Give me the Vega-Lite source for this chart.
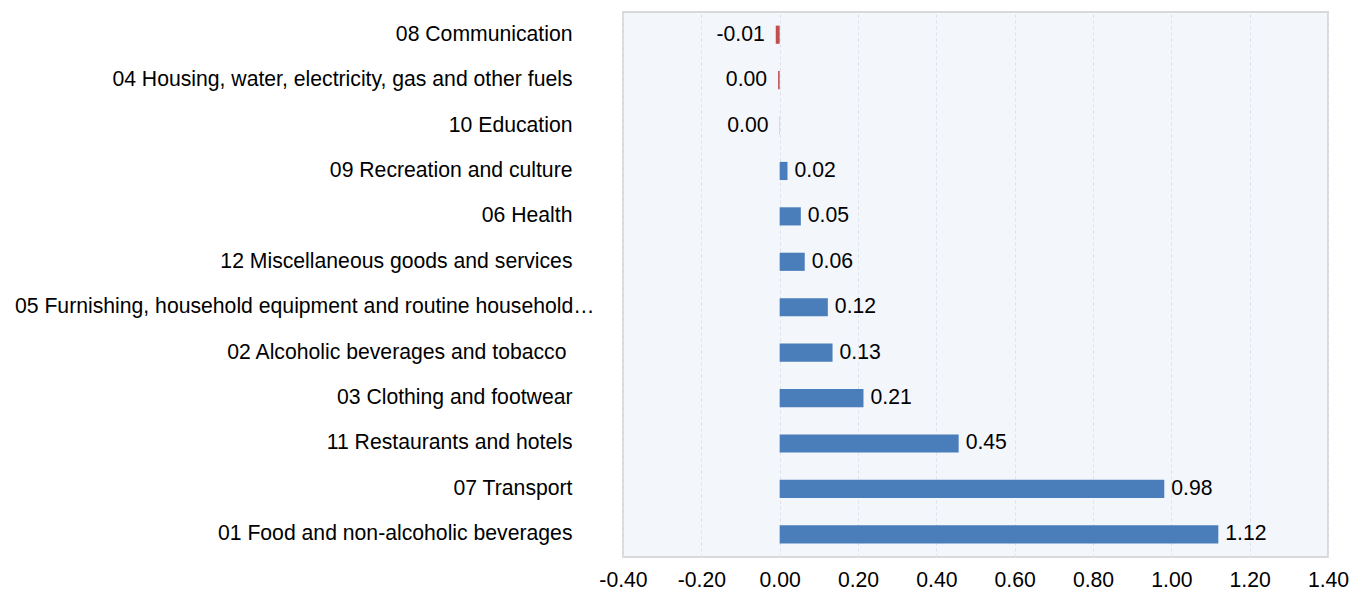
{
  "$schema": "https://vega.github.io/schema/vega-lite/v6.json",
  "width": 705,
  "height": 545,
  "autosize": {"type": "none"},
  "padding": {"left": 623, "top": 12, "right": 37, "bottom": 35},
  "background": "white",
  "config": {
    "view": {"fill": "#F3F6FB", "stroke": "#D9D9D9", "strokeWidth": 2},
    "font": "Liberation Sans"
  },
  "data": {
    "values": [
      {"category": "08 Communication", "value": -0.01, "label": "-0.01"},
      {"category": "04 Housing, water, electricity, gas and other fuels", "value": -0.004, "label": "0.00"},
      {"category": "10 Education", "value": -0.0005, "label": "0.00"},
      {"category": "09 Recreation and culture", "value": 0.02, "label": "0.02"},
      {"category": "06 Health", "value": 0.054, "label": "0.05"},
      {"category": "12 Miscellaneous goods and services", "value": 0.064, "label": "0.06"},
      {"category": "05 Furnishing, household equipment and routine household…", "value": 0.123, "label": "0.12"},
      {"category": "02 Alcoholic beverages and tobacco", "value": 0.135, "label": "0.13"},
      {"category": "03 Clothing and footwear", "value": 0.214, "label": "0.21"},
      {"category": "11 Restaurants and hotels", "value": 0.457, "label": "0.45"},
      {"category": "07 Transport", "value": 0.982, "label": "0.98"},
      {"category": "01 Food and non-alcoholic beverages", "value": 1.12, "label": "1.12"}
    ]
  },
  "encoding": {
    "y": {
      "field": "category",
      "type": "nominal",
      "sort": null,
      "scale": {"paddingInner": 0.6, "paddingOuter": 0.3},
      "axis": {
        "title": null,
        "domain": false,
        "ticks": false,
        "labelFontSize": 21.2,
        "labelColor": "#000000",
        "labelLimit": 700,
        "labelPadding": {
          "condition": [
            {"test": "indexof(datum.value, '05 ') == 0", "value": 29},
            {"test": "indexof(datum.value, '02 ') == 0", "value": 57}
          ],
          "value": 51
        }
      }
    }
  },
  "layer": [
    {
      "mark": {"type": "bar"},
      "encoding": {
        "x": {
          "field": "value",
          "type": "quantitative",
          "scale": {"domain": [-0.4, 1.4], "nice": false, "zero": false},
          "axis": {
            "title": null,
            "values": [-0.4, -0.2, 0, 0.2, 0.4, 0.6, 0.8, 1.0, 1.2, 1.4],
            "labelExpr": "datum.value < 0 ? '-' + format(-datum.value, '.2f') : format(datum.value, '.2f')",
            "labelFlush": false,
            "domain": false,
            "ticks": false,
            "labelFontSize": 21.2,
            "labelColor": "#000000",
            "labelPadding": 12,
            "grid": true,
            "gridColor": "#DCE1EA",
            "gridDash": [3, 3],
            "gridWidth": 1
          }
        },
        "x2": {"datum": 0},
        "color": {
          "condition": {"test": "datum.value < 0", "value": "#C0504D"},
          "value": "#4A7EBB"
        }
      }
    },
    {
      "mark": {"type": "rule", "color": "#8C8C8C", "strokeWidth": 1.5},
      "encoding": {"x": {"datum": 0}}
    },
    {
      "transform": [{"filter": "datum.value > 0"}],
      "mark": {"type": "text", "fontSize": 21.2, "color": "#000000", "baseline": "middle", "align": "left", "dx": 7},
      "encoding": {
        "x": {"field": "value", "type": "quantitative"},
        "text": {"field": "label"}
      }
    },
    {
      "transform": [{"filter": "datum.value <= 0"}],
      "mark": {"type": "text", "fontSize": 21.2, "color": "#000000", "baseline": "middle", "align": "right", "dx": -11},
      "encoding": {
        "x": {"field": "value", "type": "quantitative"},
        "text": {"field": "label"}
      }
    }
  ]
}
